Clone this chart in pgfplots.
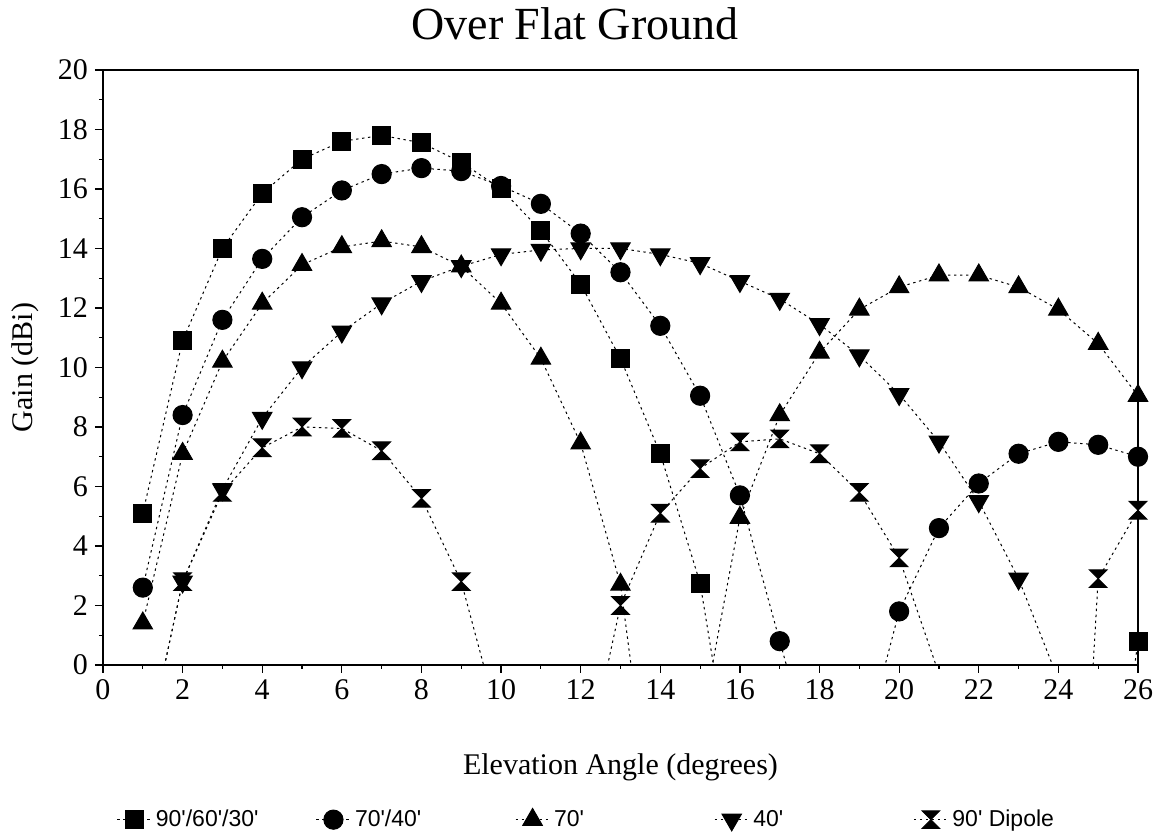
\documentclass[border=0pt]{standalone}
\usepackage{pgfplots}
\usepackage{pgfplotstable}
\pgfplotsset{compat=1.18}
\usepackage{fontspec}
\setmainfont{Liberation Serif}
\newfontfamily\legfont{Liberation Sans}

% hourglass mark for the dipole series
\pgfdeclareplotmark{hourglass}{%
  \pgfpathmoveto{\pgfqpoint{-\pgfplotmarksize}{\pgfplotmarksize}}%
  \pgfpathlineto{\pgfqpoint{\pgfplotmarksize}{\pgfplotmarksize}}%
  \pgfpathlineto{\pgfqpoint{-\pgfplotmarksize}{-\pgfplotmarksize}}%
  \pgfpathlineto{\pgfqpoint{\pgfplotmarksize}{-\pgfplotmarksize}}%
  \pgfpathclose
  \pgfusepathqfillstroke
}

% gain (dBi) vs elevation; values below 0 lie outside the plot
\pgfplotstableread{
x   a     b     c     d     e
1   5.1   2.6   1.4  -3.4  -3.4
2   10.9  8.4   7.1   2.8   2.8
3   14.0  11.6  10.2  5.9   5.8
4   15.85 13.65 12.15 8.3   7.3
5   17.0  15.05 13.45 10.0  8.0
6   17.6  15.95 14.05 11.2  7.95
7   17.8  16.5  14.25 12.15 7.2
8   17.55 16.7  14.05 12.9  5.6
9   16.9  16.6  13.4  13.4  2.8
10  16.0  16.1  12.15 13.8 -2.2
11  14.6  15.5  10.3  13.95 -6.0
12  12.8  14.5  7.45  14.0 -4.2
13  10.3  13.2  2.7   14.0  2.0
14  7.1   11.4 -7.5   13.8  5.1
15  2.75  9.05 -2.2   13.5  6.6
16 -5.4   5.7   4.95  12.9  7.5
17 -9.0   0.8   8.4   12.3  7.6
18 -10.0 -4.0   10.5  11.45 7.1
19 -9.0  -3.3   11.95 10.4  5.8
20 -10.0  1.8   12.7  9.1   3.6
21 -11.0  4.6   13.1  7.5  -0.3
22 -10.0  6.1   13.1  5.5  -5.0
23 -9.0   7.1   12.7  2.9  -8.0
24 -10.0  7.5   11.95 -0.5 -20.0
25 -9.0   7.4   10.8  -4.0  2.9
26  0.8   7.0   9.05  -6.0  5.2
}\gaindata

\begin{document}
\begin{tikzpicture}
\begin{axis}[
    scale only axis,
    width=517.5pt, height=297.5pt,
    xmin=0, xmax=26, ymin=0, ymax=20,
    xtick={0,2,...,26}, ytick={0,2,...,20},
    minor x tick num=1, minor y tick num=1,
    tick align=outside,
    xtick pos=bottom, ytick pos=left,
    major tick length=4pt, minor tick length=2pt,
    axis line style={line width=0.9pt},
    tick style={black, line width=0.6pt},
    ticklabel style={font=\fontsize{15}{18}\selectfont},
    /pgf/number format/assume math mode=true,
    title={Over Flat Ground},
    title style={font=\fontsize{23}{27}\selectfont, at={(axis description cs:0.456,1)}, anchor=base, yshift=9pt},
    xlabel={Elevation Angle (degrees)},
    ylabel={Gain (dBi)},
    label style={font=\fontsize{15}{18}\selectfont},
    xlabel style={at={(axis description cs:0.5,0)}, anchor=base, yshift=-55pt},
    ylabel style={at={(axis description cs:-0.0754,0.5)}, anchor=center, rotate=0},
    legend columns=5,
    legend style={at={(axis description cs:0.468,-0.26)}, anchor=center, draw=none,
        font=\legfont\fontsize{11.5}{14}\selectfont},
    every axis plot/.append style={black, line width=0.5pt, dash pattern=on 1.2pt off 1.8pt},
]
\addplot[mark=square*, mark size=4.5pt, mark options={solid, fill=black}] table[x=x, y=a] {\gaindata};
\addlegendentry{\makebox[78pt][l]{90\textquotesingle/60\textquotesingle/30\textquotesingle}}
\addplot[mark=*, mark size=4.8pt, mark options={solid, fill=black}] table[x=x, y=b] {\gaindata};
\addlegendentry{\makebox[78pt][l]{70\textquotesingle/40\textquotesingle}}
\addplot[mark=triangle*, mark size=5.6pt, mark options={solid, fill=black}] table[x=x, y=c] {\gaindata};
\addlegendentry{\makebox[78pt][l]{70\textquotesingle}}
\addplot[mark=triangle*, mark size=5.6pt, mark options={solid, fill=black, rotate=180}] table[x=x, y=d] {\gaindata};
\addlegendentry{\makebox[78pt][l]{40\textquotesingle}}
\addplot[mark=hourglass, mark size=4.4pt, mark options={solid, fill=black}] table[x=x, y=e] {\gaindata};
\addlegendentry{90\textquotesingle{} Dipole}
\coordinate (bbll) at (rel axis cs:-0.0995,-0.2874);
\coordinate (bbur) at (rel axis cs:1.0145,1.1176);
\end{axis}
\pgfresetboundingbox
\path[use as bounding box] (bbll) rectangle (bbur);
\end{tikzpicture}
\end{document}
